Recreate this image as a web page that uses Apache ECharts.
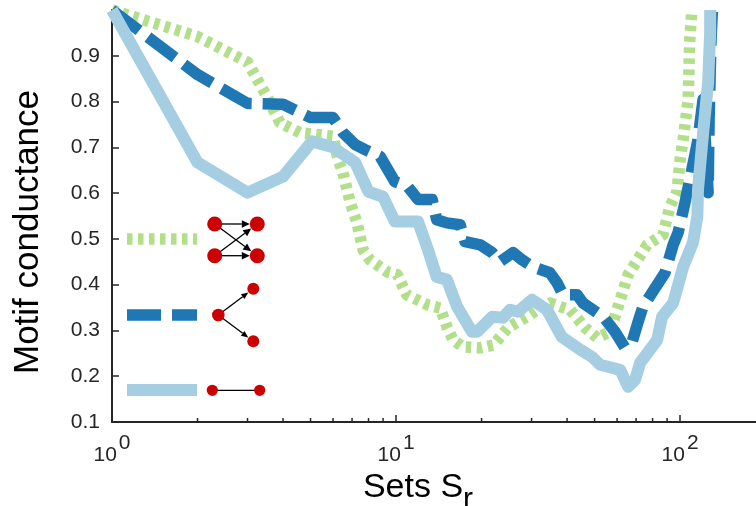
<!DOCTYPE html>
<html>
<head>
<meta charset="utf-8">
<style>html,body{margin:0;padding:0;background:#fff}#c{width:756px;height:506px}</style>
<script src="https://cdn.jsdelivr.net/npm/echarts@6/dist/echarts.min.js"></script>
</head>
<body>
<div id="c"></div>
<script>
const xMajorTicks = [1, 10, 100];
const xMinorTicks = [2,3,4,5,6,7,8,9,20,30,40,50,60,70,80,90];
const yTicks = [0.1,0.2,0.3,0.4,0.5,0.6,0.7,0.8,0.9];
const greenValues = [[1,1],[2,.942],[3,.886],[3.51,.811],[3.9,.754],[4.59,.732],[6,.724],[6.25,.673],[6.5,.645],[6.9,.579],[7.29,.535],[7.65,.476],[8.1,.454],[9.3,.428],[10.1,.422],[10.9,.378],[12.9,.356],[14.3,.349],[15.1,.308],[15.9,.279],[17.2,.264],[19.8,.262],[22,.268],[24.8,.306],[28.9,.33],[31.4,.345],[34.8,.36],[37.8,.352],[41,.345],[46.3,.306],[51,.284],[56.7,.297],[60.5,.352],[65.6,.422],[76.5,.487],[87,.509],[92,.57],[97.5,.603],[100,.673],[102.5,.717],[106.8,.805],[108,.929],[110,1]];
const darkValues = [[1,1],[2,.859],[3,.796],[4,.794],[5,.765],[6,.765],[6.5,.732],[7.18,.706],[7.78,.695],[8.79,.68],[9.9,.625],[11,.614],[11.95,.586],[13.4,.586],[13.9,.542],[15.1,.535],[16.8,.531],[17.5,.494],[19.8,.487],[21.8,.47],[23.2,.45],[25.8,.47],[27.8,.454],[30.3,.439],[34.8,.426],[36.9,.404],[38.7,.378],[43.4,.378],[45.5,.36],[51,.339],[53.6,.33],[59,.297],[64,.262],[67.8,.275],[71,.317],[74,.352],[81.7,.393],[88.5,.426],[94.5,.487],[98.4,.514],[104,.579],[110,.651],[115.6,.717],[120.5,.805],[125.5,.601],[126.5,.761],[128.5,.936],[130,1]];
const lightValues = [[1,1],[2,.667],[3,.601],[4,.636],[5.06,.713],[6,.7],[7.18,.667],[8,.603],[9,.592],[9.9,.538],[11.95,.538],[12.96,.476],[13.9,.417],[15.1,.411],[16.4,.352],[18.5,.297],[19.3,.297],[21.8,.33],[23.8,.328],[25.2,.345],[26.9,.341],[30.1,.367],[34,.345],[38.3,.286],[44.5,.258],[49,.242],[52.3,.225],[61.5,.214],[65.6,.177],[69.4,.192],[72.3,.229],[83,.279],[86.4,.33],[94.5,.36],[102.5,.439],[111,.492],[115,.549],[115.6,.608],[120.5,.732],[125.5,.842],[127.6,.951],[127.6,1]];

const GREEN='#b2df8a', DARK='#1f78b4', LIGHT='#a6cee3', RED='#cc0000', INK='#262626';
const FONT='"Liberation Sans", Arial, sans-serif';

function lineSeries(name,data,color,dash,width){
  return {name,type:'line',data,showSymbol:false,symbol:'none',clip:false,silent:true,animation:false,
    lineStyle:{color,width,type:dash,cap:'butt',join:'round'}};
}
function keyLine(y,color,dash,width){
  return {type:'line',shape:{x1:127,y1:y,x2:197,y2:y},style:{stroke:color,lineWidth:width,lineDash:dash}};
}
function node(x,y,r){return {type:'circle',shape:{cx:x,cy:y,r},style:{fill:RED},z:102};}
function arrow(x1,y1,x2,y2,r,len,half){
  const a=Math.atan2(y2-y1,x2-x1),c=Math.cos(a),s=Math.sin(a);
  const tx=x2-c*r,ty=y2-s*r,bx=tx-c*len,by=ty-s*len;
  return [
    {type:'line',shape:{x1,y1,x2:bx,y2:by},style:{stroke:'#000',lineWidth:1.3},z:101},
    {type:'polygon',shape:{points:[[tx,ty],[bx-s*half,by+c*half],[bx+s*half,by-c*half]]},style:{fill:'#000'},z:101}
  ];
}
const A=[214.7,224],B=[257.3,224],C=[214.7,255.7],D=[257.3,255.7];
const M=[218.3,315],N=[253.3,288.7],O=[253.3,341.3];
const graphics=[
  keyLine(239,GREEN,[5.5,5.5],11.5),keyLine(315,DARK,[34,11],11.5),keyLine(390,LIGHT,null,12),
  ...arrow(...A,...B,7.5,8,3.8),...arrow(...A,...D,7.5,8,3.8),...arrow(...C,...B,7.5,8,3.8),...arrow(...C,...D,7.5,8,3.8),
  node(...A,7.5),node(...B,7.5),node(...C,7.5),node(...D,7.5),
  ...arrow(...M,...N,6.3,7,3),...arrow(...M,...O,6.3,7,3),
  node(...M,6.3),node(...N,6),node(...O,6),
  {type:'line',shape:{x1:212.3,y1:390.3,x2:259.7,y2:390.3},style:{stroke:'#000',lineWidth:1.2},z:101},
  node(212.3,390.3,5.6),node(259.7,390.3,5.6)
];

const chart=echarts.init(document.getElementById('c'),null,{renderer:'canvas'});
chart.setOption({
  animation:false,
  backgroundColor:'#fff',
  grid:{left:112,right:0,top:10,bottom:84,containLabel:false,outerBoundsMode:'none'},
  xAxis:{type:'log',logBase:10,min:1,max:185,
    name:'{a|Sets S}{b|r}',nameLocation:'middle',nameGap:38,
    nameTextStyle:{padding:[0,32,0,0],rich:{
      a:{fontFamily:FONT,fontSize:34,color:'#000',verticalAlign:'top',lineHeight:38},
      b:{fontFamily:FONT,fontSize:30,color:'#000',verticalAlign:'bottom',lineHeight:44}}},
    axisLine:{show:true,onZero:false,lineStyle:{color:INK,width:2}},
    axisTick:{show:true,inside:true,length:7,customValues:xMajorTicks,lineStyle:{color:INK,width:1.5}},
    axisLabel:{show:true,margin:11,customValues:xMajorTicks,
      formatter:v=>'{n|10}{e|'+Math.round(Math.log10(v))+'}',
      rich:{n:{fontFamily:FONT,fontSize:21,color:INK,verticalAlign:'bottom',lineHeight:33},
            e:{fontFamily:FONT,fontSize:21,color:INK,verticalAlign:'top',lineHeight:33,padding:[0,0,0,2]}}},
    splitLine:{show:false},minorTick:{show:false},minorSplitLine:{show:false}},
  yAxis:{type:'value',min:0.1,max:1,interval:0.1,
    name:'Motif conductance',nameLocation:'middle',nameGap:66,
    nameTextStyle:{fontFamily:FONT,fontSize:35,color:'#000',padding:[0,32,0,0]},
    axisLine:{show:true,onZero:false,lineStyle:{color:INK,width:2}},
    axisTick:{show:true,inside:true,length:7,customValues:yTicks,lineStyle:{color:INK,width:1.5}},
    axisLabel:{show:true,margin:12,fontFamily:FONT,fontSize:21,color:INK,customValues:yTicks,formatter:v=>v.toFixed(1)},
    splitLine:{show:false}},
  tooltip:{show:false},
  legend:{show:false},
  series:[
    {type:'custom',silent:true,data:xMinorTicks.map(v=>[v,0.1]),clip:false,encode:{x:0,y:1},
      renderItem:(p,api)=>{const c=api.coord([api.value(0),api.value(1)]);
        return {type:'line',shape:{x1:c[0],y1:c[1],x2:c[0],y2:c[1]-4},style:{stroke:INK,lineWidth:1.5}};}},
    lineSeries('Green',greenValues,GREEN,[5.5,5.5],11.5),
    lineSeries('Dark',darkValues,DARK,[34,11],11.5),
    lineSeries('Light',lightValues,LIGHT,'solid',12)
  ],
  graphic:graphics
});
</script>
</body>
</html>
